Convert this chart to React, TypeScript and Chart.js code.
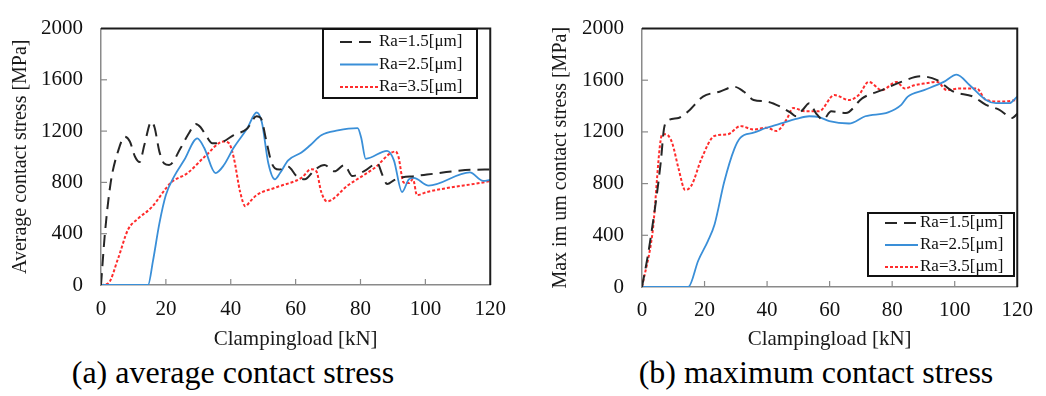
import React, { useEffect, useRef } from "react";
import { Chart, registerables } from "chart.js";

Chart.register(...registerables);

// ---------- DATA ----------
// (a) average contact stress
const avgX15 = [0, 1.2, 3, 5.3, 7.3, 8.9, 10.5, 11.9, 13.4, 15.5, 16.5, 18, 19.5, 21, 24.6, 27, 29.2, 30.7, 32.5, 34.3, 36.8, 40.9, 45, 48, 49.3, 51, 52.5, 53.6, 55, 57.7, 60.3, 62.8, 65.9, 68.9, 72, 75, 77.5, 81, 85.2, 86.7, 88.2, 90.5, 93, 96.5, 100.5, 108.6, 114, 120];
const avgY15 = [0, 400, 800, 1046, 1156, 1119, 1000, 959, 1095, 1272, 1230, 1040, 947, 935, 1070, 1180, 1255, 1230, 1160, 1105, 1110, 1168, 1218, 1316, 1300, 1120, 960, 910, 900, 922, 849, 824, 898, 935, 886, 935, 849, 886, 947, 861, 787, 820, 840, 849, 861, 886, 898, 900];

const avgX25 = [0, 14.5, 16, 18, 20, 22.6, 25.6, 29.7, 31.8, 35.3, 37.9, 40.9, 45, 48, 49.6, 51.6, 53.6, 55.2, 57.7, 61.8, 64.5, 67.9, 73, 79.1, 80.2, 81.6, 88.2, 90.3, 92.8, 94.9, 96.4, 101, 113.7, 117.8, 120];
const avgY25 = [0, 0, 184, 480, 701, 849, 972, 1144, 1070, 873, 935, 1070, 1218, 1345, 1267, 947, 824, 873, 972, 1033, 1090, 1168, 1205, 1223, 1150, 984, 1046, 972, 725, 824, 836, 775, 878, 812, 819];

const avgX35 = [0, 2.2, 5.3, 8.3, 11.4, 15.5, 21.6, 26.7, 31.8, 37.9, 39.4, 40.9, 42.9, 44.5, 46, 48, 54.1, 61.8, 64.8, 66.4, 67.9, 69.7, 76, 84.2, 90.8, 91.7, 93.3, 94.9, 96.2, 97.4, 100.5, 118.8, 120];
const avgY35 = [0, 12, 209, 430, 517, 603, 799, 873, 996, 1119, 1107, 996, 725, 615, 652, 701, 762, 836, 903, 886, 725, 652, 775, 910, 1041, 1000, 799, 795, 824, 701, 725, 804, 810];

// (b) maximum contact stress
const maxX15 = [0, 2.3, 6, 7, 8, 11.7, 14.8, 19.5, 24.8, 29.5, 32.6, 35.7, 39.9, 44.1, 47.7, 49.3, 51.4, 53.5, 55.6, 57.9, 60.5, 65.2, 70.4, 76.7, 82.9, 89.2, 94.4, 99.6, 105.9, 110, 114.3, 118.4, 120];
const maxY15 = [0, 307, 966, 1219, 1283, 1308, 1359, 1473, 1511, 1549, 1511, 1447, 1435, 1397, 1346, 1321, 1371, 1422, 1346, 1295, 1359, 1346, 1460, 1523, 1587, 1630, 1600, 1511, 1473, 1409, 1371, 1308, 1340];

const maxX25 = [0, 14.8, 18, 21.1, 23.2, 26.3, 29.5, 31.5, 35.7, 39.9, 45.1, 49.3, 53.5, 56.6, 59.9, 66.2, 71.4, 78.7, 82.9, 85, 90.2, 96.5, 100.6, 104.8, 110, 113.2, 117.4, 120];
const maxY25 = [0, 0, 205, 357, 484, 814, 1067, 1156, 1194, 1232, 1270, 1300, 1321, 1315, 1283, 1265, 1321, 1351, 1409, 1473, 1523, 1587, 1643, 1561, 1447, 1422, 1422, 1473];

const maxX35 = [0, 3.3, 6.5, 7.6, 9.6, 11.7, 13.8, 15.9, 19, 23.2, 27.4, 31.5, 35.7, 39.9, 43, 46.2, 48.3, 52.4, 56.6, 61.5, 66.2, 69.3, 72.5, 76.7, 81.4, 84, 87.1, 90.2, 94.4, 97.5, 101.7, 107, 110, 115.3, 120];
const maxY35 = [0, 408, 1181, 1181, 1118, 915, 751, 789, 991, 1169, 1181, 1245, 1219, 1232, 1207, 1295, 1384, 1359, 1359, 1485, 1447, 1485, 1587, 1523, 1587, 1536, 1561, 1574, 1587, 1523, 1536, 1536, 1447, 1435, 1447];

const seriesLabels = ["Ra=1.5[μm]", "Ra=2.5[μm]", "Ra=3.5[μm]"];
const xTitle = "Clampingload [kN]";
const yTitleA = "Average contact stress [MPa]";
const yTitleB = "Max im um contact stress [MPa]";
const captionA = "(a) average contact stress";
const captionB = "(b) maximum contact stress";
const xMin = 0, xMax = 120, xStep = 20;
const yMin = 0, yMax = 2000, yStep = 400;

// ---------- STYLE ----------
const SERIF = '"Liberation Serif", "Times New Roman", serif';
const styles = [
  { borderColor: "#262626", borderWidth: 2, borderDash: [12, 7] },
  { borderColor: "#3a8fd8", borderWidth: 1.8, borderDash: [] as number[] },
  { borderColor: "#ff2b2b", borderWidth: 2, borderDash: [3, 2] },
];

const toPoints = (xs: number[], ys: number[]) => xs.map((x, i) => ({ x, y: ys[i] }));

const framePlugin = {
  id: "frameTicks",
  afterDatasetsDraw(chart: any) {
    const { ctx, chartArea: a, scales } = chart;
    ctx.save();
    ctx.strokeStyle = "#8a8a8a";
    ctx.lineWidth = 1.2;
    ctx.setLineDash([]);
    scales.x.ticks.forEach((t: any) => {
      const px = scales.x.getPixelForValue(t.value);
      if (px <= a.left + 1 || px >= a.right - 1) return;
      ctx.beginPath();
      ctx.moveTo(px, a.bottom);
      ctx.lineTo(px, a.bottom - 6);
      ctx.stroke();
    });
    scales.y.ticks.forEach((t: any) => {
      const py = scales.y.getPixelForValue(t.value);
      if (py <= a.top + 1 || py >= a.bottom - 1) return;
      ctx.beginPath();
      ctx.moveTo(a.left, py);
      ctx.lineTo(a.left + 6, py);
      ctx.stroke();
    });
    ctx.strokeStyle = "#1c1c1c";
    ctx.lineWidth = 2;
    ctx.beginPath();
    ctx.moveTo(a.left, a.top);
    ctx.lineTo(a.right, a.top);
    ctx.lineTo(a.right, a.bottom);
    ctx.stroke();
    ctx.restore();
  },
};

const boxLegendPlugin = {
  id: "boxLegend",
  afterDraw(chart: any, _args: any, opts: any) {
    if (!opts || !opts.box) return;
    const { ctx } = chart;
    const b = opts.box;
    ctx.save();
    ctx.fillStyle = "#ffffff";
    ctx.fillRect(b.left, b.top, b.width, b.height);
    ctx.strokeStyle = "#111";
    ctx.lineWidth = 2;
    ctx.setLineDash([]);
    ctx.strokeRect(b.left, b.top, b.width, b.height);
    chart.data.datasets.forEach((ds: any, i: number) => {
      const y = opts.rows[i];
      ctx.strokeStyle = ds.borderColor;
      ctx.lineWidth = ds.borderWidth;
      ctx.setLineDash(ds.borderDash || []);
      ctx.beginPath();
      ctx.moveTo(opts.lineX0, y);
      ctx.lineTo(opts.lineX1, y);
      ctx.stroke();
      ctx.setLineDash([]);
      ctx.fillStyle = "#111";
      ctx.font = `17px ${SERIF}`;
      ctx.textBaseline = "middle";
      ctx.textAlign = "left";
      ctx.fillText(ds.label, opts.textX, y);
    });
    ctx.restore();
  },
};

function makeConfig(p: {
  data: { x: number[]; y: number[] }[];
  yTitle: string;
  yWidth: number;
  xHeight: number;
  padding: any;
  yTitlePad: number;
  xTickPad: number;
  legend: any;
}) {
  return {
    type: "line",
    data: {
      datasets: p.data.map((d, i) => ({
        label: seriesLabels[i],
        data: toPoints(d.x, d.y),
        borderColor: styles[i].borderColor,
        borderWidth: styles[i].borderWidth,
        borderDash: styles[i].borderDash,
        pointRadius: 0,
        fill: false,
        cubicInterpolationMode: "monotone",
      })),
    },
    options: {
      responsive: false,
      animation: false,
      devicePixelRatio: 1,
      layout: { padding: p.padding },
      plugins: {
        legend: { display: false },
        tooltip: { enabled: false },
        boxLegend: p.legend,
      },
      scales: {
        x: {
          type: "linear",
          min: xMin,
          max: xMax,
          afterFit: (s: any) => { s.height = p.xHeight; },
          ticks: {
            stepSize: xStep,
            padding: p.xTickPad,
            color: "#111",
            maxRotation: 0,
            callback: (v: any) => String(v),
            font: { family: SERIF, size: 21, lineHeight: 1 },
          },
          grid: { display: false, drawTicks: false },
          border: { display: true, color: "#8a8a8a", width: 1.5 },
          title: {
            display: true,
            text: xTitle,
            color: "#1a1a1a",
            font: { family: SERIF, size: 21, lineHeight: 1 },
            padding: { top: 0, bottom: 0 },
          },
        },
        y: {
          type: "linear",
          min: yMin,
          max: yMax,
          afterFit: (s: any) => { s.width = p.yWidth; },
          ticks: {
            stepSize: yStep,
            padding: 18,
            color: "#111",
            callback: (v: any) => String(v),
            font: { family: SERIF, size: 21, lineHeight: 1 },
          },
          grid: { display: false, drawTicks: false },
          border: { display: true, color: "#8a8a8a", width: 1.5 },
          title: {
            display: true,
            text: p.yTitle,
            color: "#1a1a1a",
            font: { family: SERIF, size: 20, lineHeight: 1 },
            padding: { top: p.yTitlePad, bottom: 0 },
          },
        },
      },
    },
    plugins: [framePlugin, boxLegendPlugin],
  };
}

function ChartCanvas(props: { config: any; left: number; width: number; height: number }) {
  const ref = useRef<HTMLCanvasElement | null>(null);
  useEffect(() => {
    if (!ref.current) return;
    const chart = new Chart(ref.current, props.config);
    return () => chart.destroy();
  }, []);
  return (
    <canvas
      ref={ref}
      width={props.width}
      height={props.height}
      style={{ position: "absolute", left: props.left, top: 0, width: props.width, height: props.height, display: "block" }}
    />
  );
}

const configA = makeConfig({
  data: [
    { x: avgX15, y: avgY15 },
    { x: avgX25, y: avgY25 },
    { x: avgX35, y: avgY35 },
  ],
  yTitle: yTitleA,
  yWidth: 101,
  xHeight: 65,
  padding: { top: 14, right: 26, left: 0, bottom: 0 },
  yTitlePad: 11,
  xTickPad: 14,
  legend: {
    box: { left: 323, top: 29, width: 154, height: 69 },
    rows: [42, 64.5, 87],
    lineX0: 340,
    lineX1: 378,
    textX: 379,
  },
});

const configB = makeConfig({
  data: [
    { x: maxX15, y: maxY15 },
    { x: maxX25, y: maxY25 },
    { x: maxX35, y: maxY35 },
  ],
  yTitle: yTitleB,
  yWidth: 112,
  xHeight: 63,
  padding: { top: 24, right: 21, left: 0, bottom: 0 },
  yTitlePad: 21,
  xTickPad: 13,
  legend: {
    box: { left: 338, top: 213, width: 146, height: 63 },
    rows: [223, 245, 267],
    lineX0: 355,
    lineX1: 388,
    textX: 390,
  },
});

const captionStyle: React.CSSProperties = {
  position: "absolute",
  top: 356,
  width: 420,
  textAlign: "center",
  fontFamily: SERIF,
  fontSize: 32,
  lineHeight: "32px",
  color: "#000",
  whiteSpace: "nowrap",
};

export default function App() {
  return (
    <div style={{ position: "fixed", left: 0, top: 0, width: 1046, height: 396, background: "#fff", overflow: "hidden" }}>
      <ChartCanvas config={configA} left={0} width={520} height={350} />
      <ChartCanvas config={configB} left={530} width={516} height={350} />
      <div style={{ ...captionStyle, left: 233 - 210 }}>{captionA}</div>
      <div style={{ ...captionStyle, left: 816 - 210 }}>{captionB}</div>
    </div>
  );
}
